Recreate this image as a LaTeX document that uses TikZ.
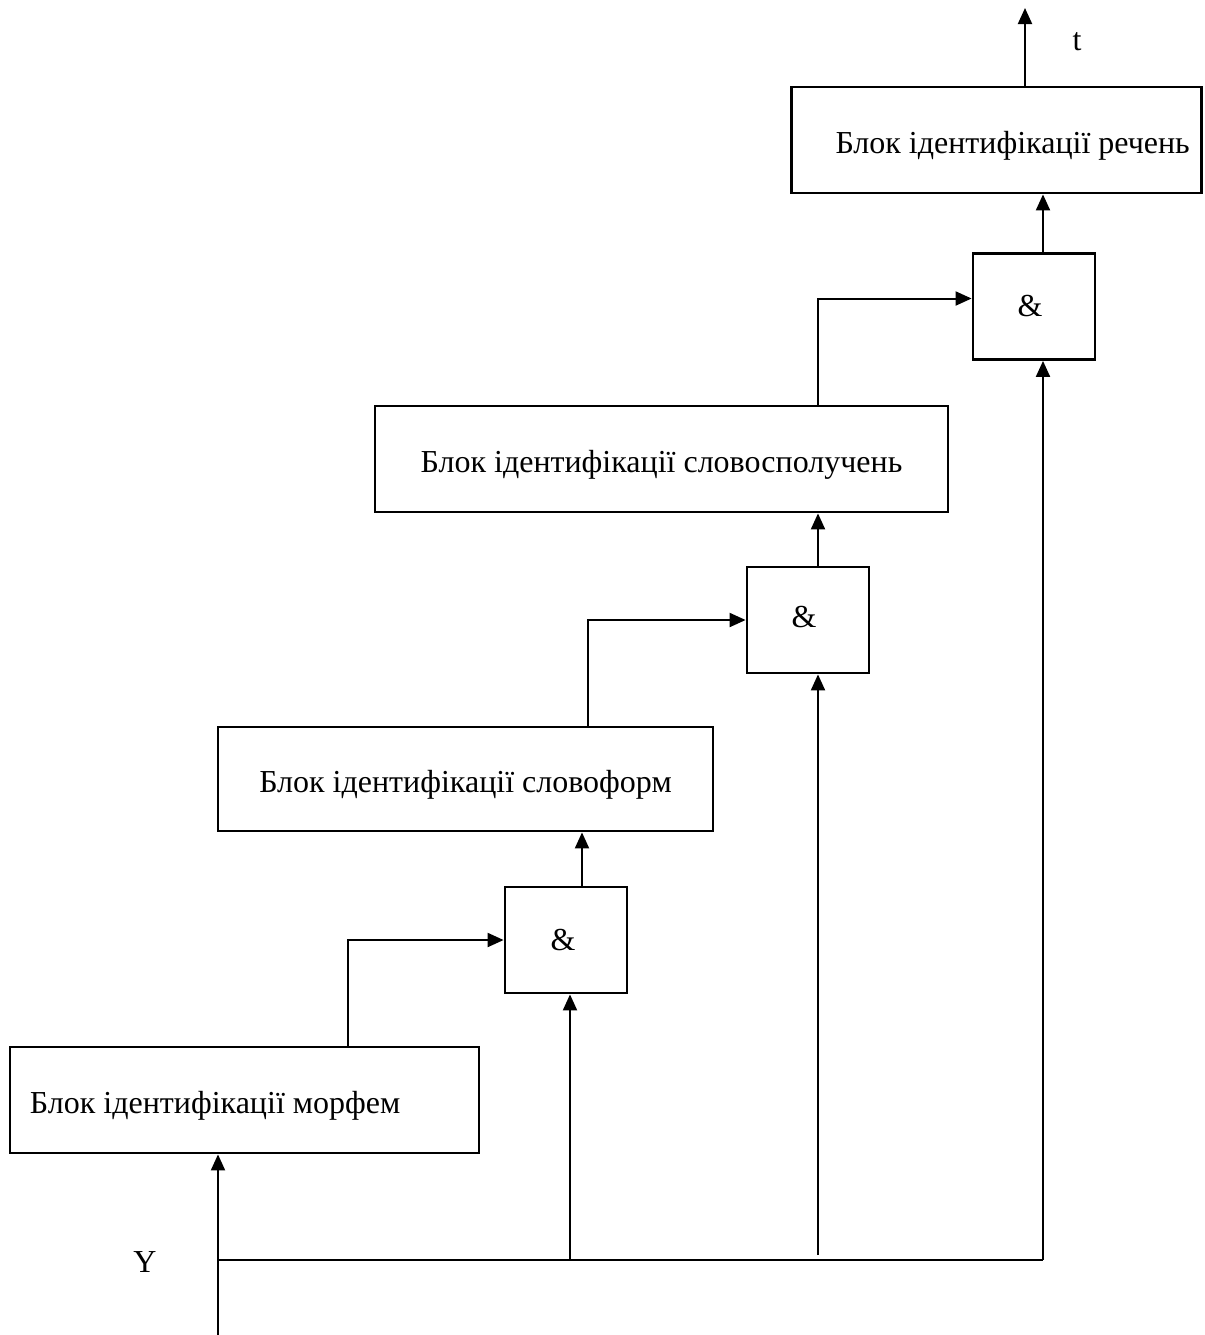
\documentclass[tikz,border=0pt]{standalone}
\usepackage{fontspec}
\setmainfont{Liberation Serif}
\usetikzlibrary{arrows.meta}
\newcommand\lowtxt[1]{\raisebox{-3pt}[\height][\depth]{#1}}
\begin{document}
\begin{tikzpicture}[x=0.5pt,y=-0.5pt,
  every node/.style={font=\fontsize{16}{19}\selectfont},
  blk/.style={draw,line width=1.4pt,inner sep=0pt,minimum height=53pt},
  gate/.style={draw,line width=1.4pt,inner sep=0pt,minimum width=61pt,minimum height=53pt},
  conn/.style={line width=1pt},
  arr/.style={conn,-{Triangle[length=8pt,width=7pt]}}]
\useasboundingbox (0,0) rectangle (1205,1335);
% blocks
\node[blk,minimum width=205pt] (rech) at (996.5,140) {\lowtxt{\makebox[205pt][l]{\hspace{22pt}Блок ідентифікації речень}}};
\node[gate] (g3) at (1034,306.5) {\hspace{-4pt}\&};
\node[blk,minimum width=286.5pt] (slov) at (661.5,459) {\lowtxt{Блок ідентифікації словосполучень}};
\node[gate] (g2) at (808,620) {\hspace{-4pt}\raisebox{3pt}{\&}};
\node[blk,minimum width=247.5pt,minimum height=52pt] (form) at (465.5,779) {\lowtxt{Блок ідентифікації словоформ}};
\node[gate] (g1) at (566,940) {\hspace{-3pt}\&};
\node[blk,minimum width=234.5pt] (morf) at (244.5,1100) {\lowtxt{\makebox[234.5pt][l]{\hspace{10pt}Блок ідентифікації морфем}}};
% labels
\node (tl) at (1077,42) {t};
\node (yl) at (145,1262) {Y};
% coordinates
\coordinate (tout) at (1025,8);
\coordinate (yin) at (218,1335);
\coordinate (bus0) at (218,1260);
\coordinate (b1) at (570,1260);
\coordinate (b2) at (818,1255);
\coordinate (b3) at (1043,1260);
\coordinate (xa) at (348,0);
\coordinate (xb) at (588,0);
\coordinate (xc) at (818,0);
\coordinate (x1) at (582,0);
\coordinate (x2) at (818,0);
\coordinate (x3) at (1043,0);
% connectors
\draw[arr] (rech.north -| tout) -- (tout);
\draw[arr] (g3.north -| x3) -- (rech.south -| x3);
\draw[arr] (slov.north -| xc) |- ([yshift=4pt]g3.west);
\draw[arr] (g2.north -| x2) -- (slov.south -| x2);
\draw[arr] (form.north -| xb) |- (g2.west);
\draw[arr] (g1.north -| x1) -- (form.south -| x1);
\draw[arr] (morf.north -| xa) |- (g1.west);
\draw[arr] (yin) -- (morf.south -| yin);
\draw[conn] (bus0) -- (b3);
\draw[arr] (b1) -- (g1.south -| b1);
\draw[arr] (b2) -- (g2.south -| b2);
\draw[arr] (b3) -- (g3.south -| b3);
\end{tikzpicture}
\end{document}
